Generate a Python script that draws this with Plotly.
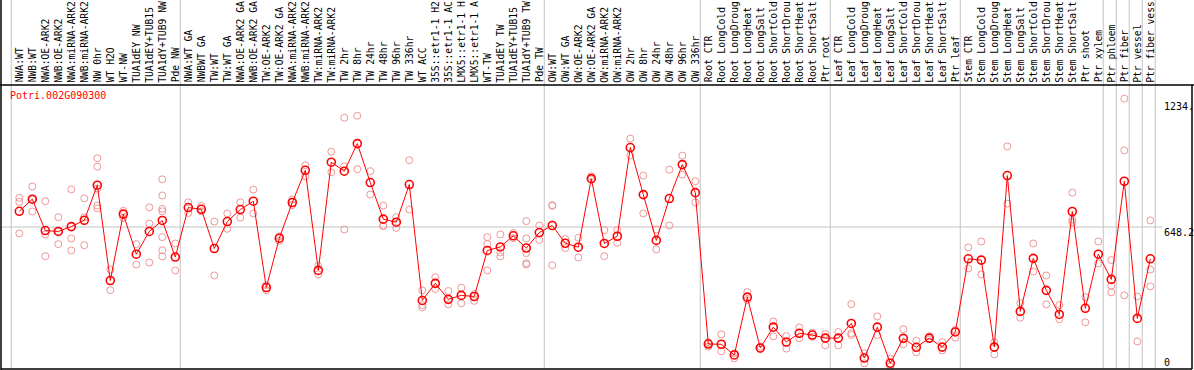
import plotly.graph_objects as go

title_text = "Potri.002G090300"

categories = [
    "NWA:WT", "NWB:WT", "NWA:OE-ARK2", "NWB:OE-ARK2", "NWA:miRNA-ARK2", "NWB:miRNA-ARK2",
    "NW 0hr", "WT H2O", "WT-NW", "TUA1dEY NW", "TUA1dEY+TUB15", "TUA1dY+TUB9 NW", "Pde NW",
    "NWA:WT GA", "NWBWT GA", "TW:WT", "TW:WT GA", "NWA:OE-ARK2 GA", "NWB:OE-ARK2 GA",
    "TW:OE-ARK2", "TW:OE-ARK2 GA", "NWA:miRNA-ARK2", "NWB:miRNA-ARK2", "TW:miRNA-ARK2",
    "TW:miRNA-ARK2", "TW 2hr", "TW 8hr", "TW 24hr", "TW 48hr", "TW 96hr", "TW 336hr", "WT ACC",
    "35S::etr1-1 H2", "35S::etr1-1 AC", "LMX5::etr1-1 H", "LMX5::etr1-1 A", "WT-TW",
    "TUA1dEY TW", "TUA1dEY+TUB15", "TUA1dY+TUB9 TW", "Pde TW",
    "OW:WT", "OW:WT GA", "OW:OE-ARK2", "OW:OE-ARK2 GA", "OW:miRNA-ARK2", "OW:miRNA-ARK2",
    "OW 2hr", "OW 8hr", "OW 24hr", "OW 48hr", "OW 96hr", "OW 336hr",
    "Root CTR", "Root LongCold", "Root LongDroug", "Root LongHeat", "Root LongSalt",
    "Root ShortCold", "Root ShortDrou", "Root ShortHeat", "Root ShortSalt", "Ptr root",
    "Leaf CTR", "Leaf LongCold", "Leaf LongDroug", "Leaf LongHeat", "Leaf LongSalt",
    "Leaf ShortCold", "Leaf ShortDrou", "Leaf ShortHeat", "Leaf ShortSalt", "Ptr leaf",
    "Stem CTR", "Stem LongCold", "Stem LongDroug", "Stem LongHeat", "Stem LongSalt",
    "Stem ShortCold", "Stem ShortDrou", "Stem ShortHeat", "Stem ShortSalt",
    "Ptr shoot", "Ptr xylem", "Ptr phloem", "Ptr fiber", "Ptr vessel", "Ptr fiber vess",
]

means = [
    720, 775, 632, 628, 650, 679, 839, 404, 707, 524,
    628, 678, 511, 737, 729, 550, 673, 728, 766, 372,
    597, 760, 907, 450, 944, 903, 1029, 851, 684, 670,
    842, 313, 391, 318, 336, 331, 541, 557, 608, 552,
    623, 655, 574, 556, 869, 573, 606, 1011, 796, 587,
    778, 933, 805, 114, 113, 64, 328, 96, 191, 123,
    163, 155, 141, 141, 208, 50, 191, 26, 140, 99,
    141, 100, 169, 503, 497, 100, 883, 263, 505, 359,
    249, 719, 277, 524, 409, 857, 231, 503,
]

replicates = [
    [781, 763, 619], [833, 775, 719], [766, 614, 515], [693, 628, 570], [820, 596, 541],
    [779, 693, 565], [962, 924, 824, 746, 733], [454, 360], [722, 690], [570, 477],
    [738, 664, 486], [866, 792, 731, 720, 602, 542, 514], [573, 450], [761, 712], [744, 720],
    [673, 427], [710, 640], [761, 691], [819, 710], [383, 360],
    [606, 585], [774, 748], [930, 880], [471, 432], [992, 898],
    [1147, 637, 925], [1156, 912], [903, 796], [746, 653, 653], [693, 644],
    [953, 728], [359, 292, 281], [419, 365], [356, 295], [371, 300],
    [342, 311], [602, 571, 450], [614, 532, 514], [621, 597], [675, 596, 529, 477, 483],
    [655, 589], [748, 745, 474], [593, 552], [599, 509], [880, 865],
    [634, 515], [634, 576], [1052, 975], [883, 710], [637, 546],
    [910, 655], [974, 887], [857, 761], [102, 123, 117], [158, 81],
    [72, 49], [351, 315], [102, 90], [217, 149], [150, 93],
    [190, 140], [166, 147], [160, 108], [169, 108], [296, 163, 155],
    [72, 26], [240, 155], [47, 11], [182, 113], [129, 76],
    [150, 135], [123, 85], [178, 143], [555, 459], [582, 432],
    [122, 67], [1016, 755], [301, 234], [573, 445], [427, 295],
    [292, 227], [805, 682, 670], [328, 213], [582, 482], [497, 380, 350],
    [1234, 998, 336], [331, 126], [678, 454, 377],
]

group_starts = [0, 13, 41, 53, 63, 73, 84, 85, 86, 87, 88]

y_max_label = "1234."
y_mid_label = "648.2"
y_min_label = "0"
y_top = 1296.4
y_mid = 648.2

# ---------------------------------------------------------------
W, H = 1194, 370
L, R, T, B = 1, 2, 85, 1
pw = W - L - R
ph = H - T - B
step = 13.0
x0 = -(19.3 - L) / step
x1 = x0 + pw / step

def px_to_py(y):
    return (H - B - y) / ph

def px_to_px(x):
    return (x - L) / pw

idx = list(range(len(categories)))

rep_x, rep_y = [], []
for i, reps in enumerate(replicates):
    for v in reps:
        rep_x.append(i)
        rep_y.append(v)

fig = go.Figure()
fig.add_trace(go.Scatter(
    x=rep_x, y=rep_y, mode="markers",
    marker=dict(symbol="circle-open", size=7, color="rgb(238,150,150)", line=dict(width=1)),
    hoverinfo="skip", showlegend=False, cliponaxis=False,
))
fig.add_trace(go.Scatter(
    x=idx, y=means, mode="lines+markers",
    line=dict(color="rgb(255,0,0)", width=1),
    marker=dict(symbol="circle-open", size=8, color="rgb(255,0,0)", line=dict(width=1.6)),
    text=categories, showlegend=False, cliponaxis=False,
))

shapes = []
gray = "rgb(195,195,195)"
for g in group_starts:
    xs = g - 0.62
    shapes.append(dict(type="line", xref="x", yref="paper", x0=xs, x1=xs,
                       y0=0, y1=px_to_py(0), line=dict(color=gray, width=1), layer="below"))
# mid gridline
shapes.append(dict(type="line", xref="paper", yref="y", x0=0, x1=px_to_px(1162),
                   y0=y_mid, y1=y_mid, line=dict(color=gray, width=1), layer="below"))
# frame
blk = "black"
shapes.append(dict(type="line", xref="paper", yref="paper", x0=0, x1=0,
                   y0=px_to_py(370), y1=px_to_py(0), line=dict(color=blk, width=1.5)))
shapes.append(dict(type="line", xref="paper", yref="paper", x0=px_to_px(0), x1=px_to_px(1194),
                   y0=1, y1=1, line=dict(color=blk, width=1.5)))
shapes.append(dict(type="line", xref="paper", yref="paper", x0=0, x1=1,
                   y0=0, y1=0, line=dict(color=blk, width=1.5)))
shapes.append(dict(type="line", xref="paper", yref="paper", x0=1, x1=1,
                   y0=0, y1=1, line=dict(color=blk, width=1.5)))

mono = "DejaVu Sans Mono"
annotations = []
for i, c in enumerate(categories):
    annotations.append(dict(
        x=i, xref="x", y=px_to_py(83.5), yref="paper", text=c, showarrow=False,
        textangle=-90, xanchor="center", yanchor="bottom", borderpad=0,
        font=dict(family=mono, size=9.7, color="black"),
    ))
annotations.append(dict(x=px_to_px(9), xref="paper", y=px_to_py(95.5), yref="paper",
                        text=title_text, showarrow=False, xanchor="left", yanchor="middle",
                        borderpad=0, font=dict(family=mono, size=10, color="red")))
for lab, yc in [(y_max_label, 106.7), (y_mid_label, 232.7), (y_min_label, 362.3)]:
    annotations.append(dict(x=px_to_px(1162.5), xref="paper", y=px_to_py(yc), yref="paper",
                            text=lab, showarrow=False, xanchor="left", yanchor="middle",
                            borderpad=0, font=dict(family=mono, size=10, color="black")))

fig.update_layout(
    width=W, height=H,
    margin=dict(l=L, r=R, t=T, b=B, pad=0),
    plot_bgcolor="white", paper_bgcolor="white",
    xaxis=dict(range=[x0, x1], showgrid=False, zeroline=False, showticklabels=False,
               showline=False, ticks="", fixedrange=True),
    yaxis=dict(range=[0, y_top], showgrid=False, zeroline=False, showticklabels=False,
               showline=False, ticks="", fixedrange=True),
    shapes=shapes, annotations=annotations,
    showlegend=False,
)

fig.write_html(
    "out.html",
    config={"displayModeBar": False},
    post_script="document.body.style.margin='0';document.body.style.padding='0';",
)
